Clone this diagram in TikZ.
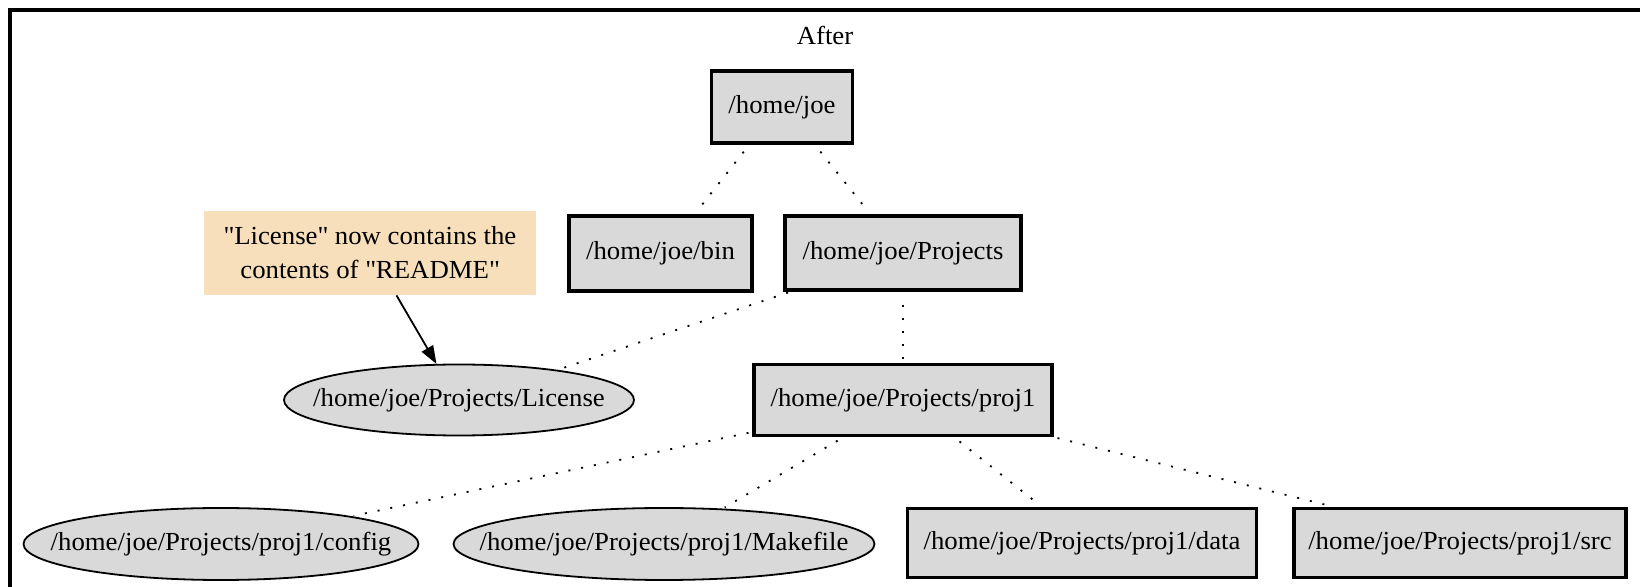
\documentclass[tikz,border=0pt]{standalone}
\usepackage{fontspec}
\setmainfont{Liberation Serif}[FakeStretch=1.03]
\usetikzlibrary{arrows.meta,shapes.geometric}
\definecolor{nodegray}{HTML}{D9D9D9}
\definecolor{notefill}{HTML}{F6DFBA}
\begin{document}
\begin{tikzpicture}[x=0.5pt,y=-0.5pt,
  font=\fontsize{13pt}{17pt}\selectfont,
  dirbox/.style={rectangle, draw, line width=1.6pt, fill=nodegray, inner sep=0pt},
  filebox/.style={ellipse, draw, line width=0.9pt, fill=nodegray, inner sep=0pt},
  notebox/.style={rectangle, fill=notefill, inner sep=0pt, align=center},
  tree/.style={line width=0.9pt, dash pattern=on 1pt off 5.5pt},
  pointer/.style={line width=0.9pt, -{Triangle[length=9pt,width=6.5pt]}}]
\useasboundingbox (0,0) rectangle (1640,587);
% cluster frame (runs off the right and bottom edges)
\draw[line width=1.8pt] (10,10) rectangle (1700,660);
\node (title) at (825,35) {After};

% directories and files
\node[dirbox, minimum width=70.5pt, minimum height=36pt] (joe) at (782,107) {/home/joe};
\node[dirbox, minimum width=91.5pt, minimum height=37.5pt] (bin) at (660.5,253.5) {/home/joe/bin};
\node[dirbox, minimum width=118pt, minimum height=37pt] (proj) at (903,253) {/home/joe/Projects};
\node[notebox, minimum width=166pt, minimum height=42pt] (note) at (370,253)
  {\textquotedbl License\textquotedbl{} now contains the\\contents of \textquotedbl README\textquotedbl};
\node[filebox, minimum width=175pt, minimum height=35.5pt,
  label={center:/home/joe/Projects/License}] (lic) at (459,400) {};
\node[dirbox, minimum width=149pt, minimum height=35.5pt] (p1) at (903,400) {/home/joe/Projects/proj1};
\node[filebox, minimum width=197.5pt, minimum height=36pt,
  label={center:/home/joe/Projects/proj1/config}] (cfg) at (221,544) {};
\node[filebox, minimum width=210.5pt, minimum height=36pt,
  label={center:/home/joe/Projects/proj1/Makefile}] (mk) at (664,544) {};
\node[dirbox, minimum width=174.5pt, minimum height=34.5pt] (data) at (1082,543) {/home/joe/Projects/proj1/data};
\node[dirbox, minimum width=166pt, minimum height=34.5pt] (src) at (1460,543) {/home/joe/Projects/proj1/src};

% tree edges
\draw[tree, shorten <=4.5pt, shorten >=4pt] (joe.-131) -- (bin.49.1);
\draw[tree, shorten <=4.5pt, shorten >=4pt] (joe.-49) -- (proj.130);
\draw[tree, shorten <=1.5pt, shorten >=1pt] (proj.-161.4) -- (lic.17.6);
\draw[tree, shorten <=6.5pt, shorten >=2pt] (proj.south) -- (p1.north);
\draw[tree, shorten <=2pt, shorten >=1pt] (p1.-168.2) -- (cfg.12.9);
\draw[tree, shorten <=3.5pt, shorten >=1pt] (p1.-148.3) -- (mk.31);
\draw[tree, shorten <=3.5pt, shorten >=2pt] (p1.-36.5) -- (data.138.5);
\draw[tree, shorten <=2pt, shorten >=2pt] (p1.south east) -- (src.164);

% annotation
\draw[pointer] (note.-58.2) -- (lic.122);
\end{tikzpicture}
\end{document}
